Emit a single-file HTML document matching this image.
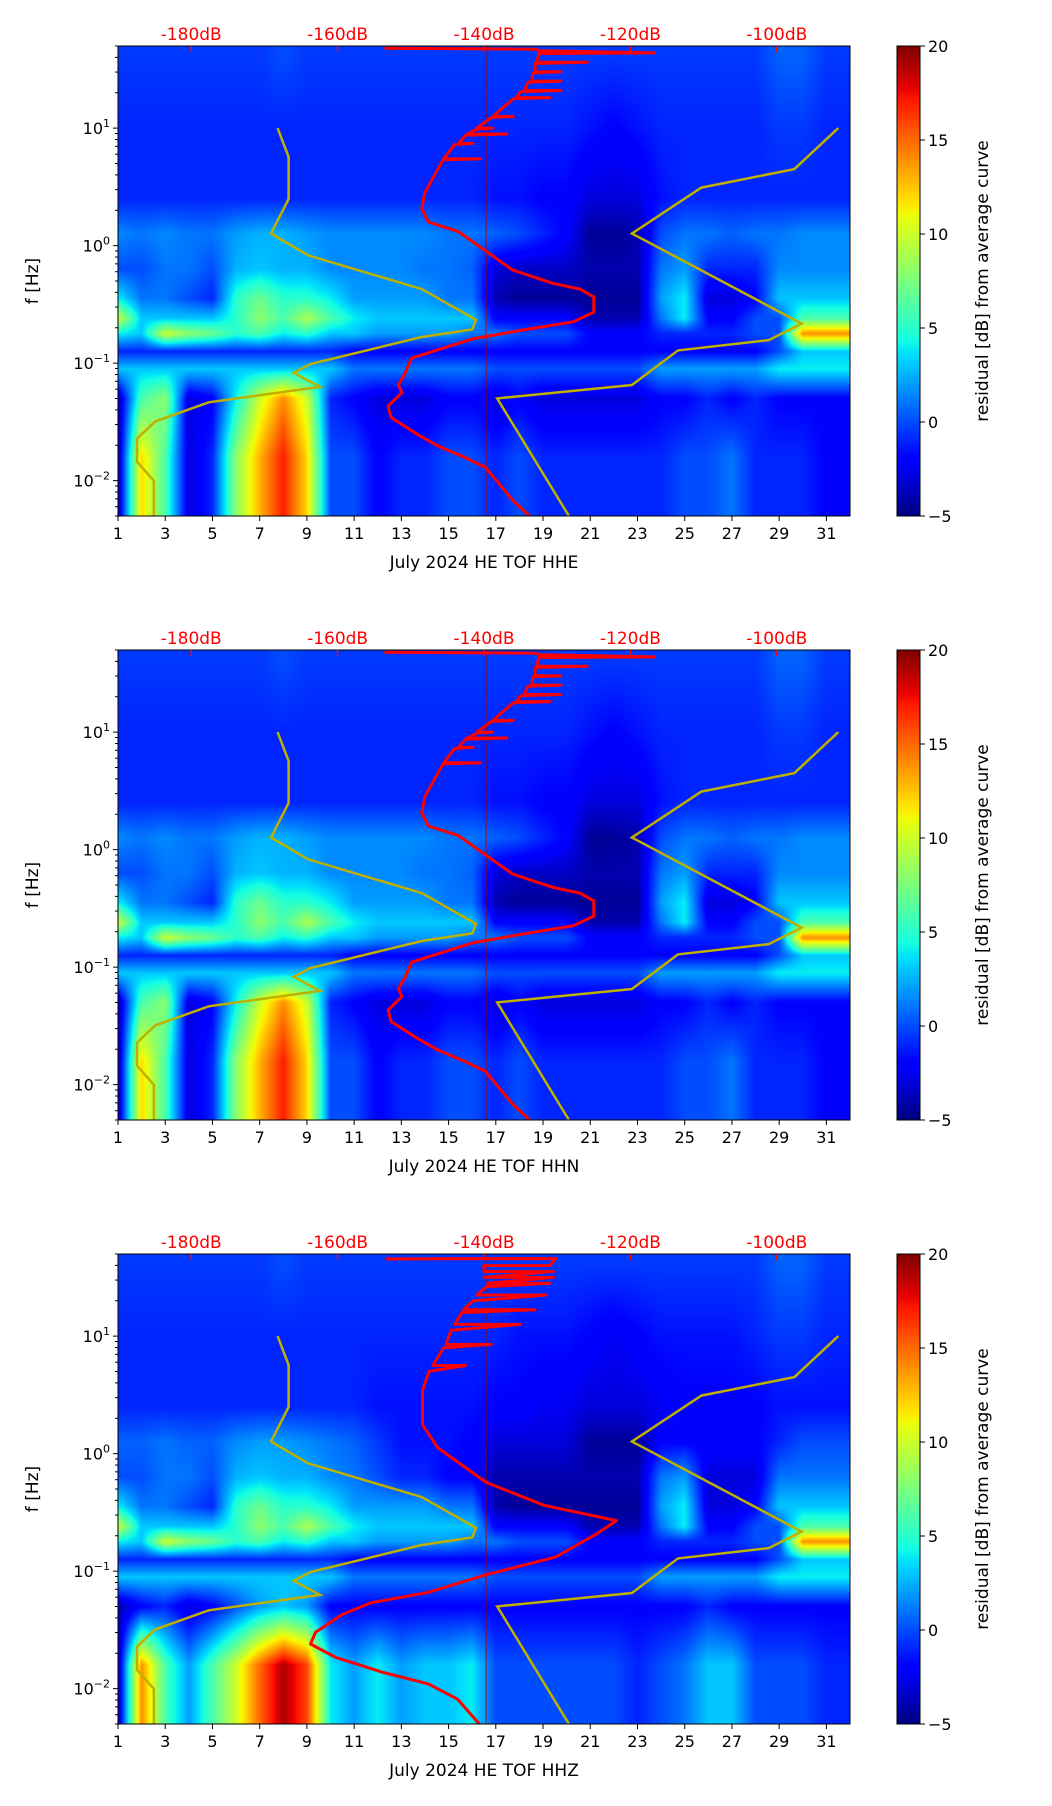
<!DOCTYPE html>
<html><head><meta charset="utf-8">
<style>
html,body{margin:0;padding:0;background:#fff;}
#wrap{position:relative;width:1052px;height:1806px;overflow:hidden;font-family:"DejaVu Sans","Liberation Sans",sans-serif;}
canvas{position:absolute;left:0;top:0;}
svg{position:absolute;left:0;top:0;}
</style></head>
<body>
<div id="wrap">
<canvas id="cv" width="1052" height="1806"></canvas>
<svg id="sv" width="1052" height="1806" xmlns="http://www.w3.org/2000/svg"></svg>
</div>
<script>
// ---------- data ----------
const rowLogF = [1.6, 1.0, 0.4, 0.1, -0.2, -0.45, -0.62, -0.75, -0.9, -1.05, -1.3, -1.8, -2.25];
const p1Rows = [
[-0.5,-0.5,-0.5,-0.5,-0.5,-0.5,-0.5,0,-0.5,-0.5,-0.5,-0.5,-0.5,-0.5,-0.5,-0.5,-0.5,-0.5,-0.5,-0.5,-0.5,-0.5,-0.5,-0.5,-0.5,-0.5,-0.5,-0.5,0.5,0.5,-0.5],
[-1,-1,-1,-1,-1,-1,-1,-1,-1,-1,-1,-1,-1,-1,-1,-1,-1,-1,-1,-1,-1.5,-2,-1.5,-1,-1,-1,-1,-1,-0.5,-0.5,-1],
[-1,-1,-1,-1,-1,-1,-1,-1,-1,-1,-1,-1,-1,-1,-1,-1,-1.5,-1.5,-2,-2,-3,-3,-3,-1.5,-1,-1,-1,-1,-1,-1,-1],
[1.5,1,1.5,1,1,2,2.5,2.5,2,1.5,1.5,1.5,1.5,1.5,1,1,0.5,0,-1,-2,-4.5,-4.5,-4,0,1,1,0.5,1,1,1.5,1.5],
[0,0,1,1,0,2.5,3,2.5,2.5,1.5,1.5,1.5,1.5,1,1,0.5,-3,-3.5,-3.5,-3.5,-4,-4,-4,1,2,-1,-1,-1,1.5,1.5,1.5],
[4,1,1,0,-1,5,7,5,5,4,2,2,2,2,1,1,-4,-4.5,-4.5,-4.5,-4.5,-4.5,-4.5,2,4,-3,-3,-2,3,3,3],
[10,3,3,3,3,5,8,6,9,6,4,3,3,3,3,3,-2,-2,-2,-2,-4,-4,-4,1,4,-2,-2,0,0,6,6],
[4,3,10,8,7,5,6,4,5,3,3,2,2,2,2,1,1,0,0,0,-2,-2,-2,-1,-1,-1,-1,0,0,14,14],
[-1,-1,-1,-1,-1,-1,-1,-1,-1,-1,-2,-2,-2,-2,-2,-2,-2,-2,-2,-2,-2,-2,-2,-2,-2,-2,-2,-2,0,3,3],
[3,3,3,3,3,3,3,3,3,3,1,1,1,1,1,1,0,0,0,0,0,0,0,2,2,2,2,2,4,4,4],
[-4,6,8,-3,-2,4,10,14,10,-1,-2,-3,-3,-3,-2,-2,-3,-2,-3,-3,-3,-3,-3,-2,-2,-1,-2,-1,-2,-2,-2],
[-4,12,6,-3,-1,8,13,17,12,0,0,-2,-1,-1,0,0,-1,0,-1,-1,-1,-1,-1,-1,0,0,1,-1,-1,-1,-2],
[-4,12,6,-3,-1,8,13,17,12,0,0,-2,-1,-1,0,0,-1,0,-1,-1,-1,-1,-1,-1,0,0,1,-1,-1,-1,-2]
];
const p3Rows = [
[-0.5,-0.5,-0.5,-0.5,-0.5,-0.5,-0.5,0,-0.5,-0.5,-0.5,-0.5,-0.5,-0.5,-0.5,-0.5,-0.5,-0.5,-0.5,-0.5,-0.5,-0.5,-0.5,-0.5,-0.5,-0.5,-0.5,-0.5,0.5,0.5,-0.5],
[-1,-1,-1,-1,-1,-1,-1,-1,-1,-1,-1,-1,-1,-1,-1,-1,-1,-1.5,-1.5,-1.5,-2,-2.5,-2,-1.5,-1.5,-1.5,-1.5,-1,-0.5,-0.5,-1],
[-1,-1,-1,-1,-1,-1,-1,-1,-1,-1,-1,-1.5,-1.5,-1.5,-1.5,-1.5,-2,-2,-2.5,-2.5,-3,-3,-3,-2.5,-2,-2,-2,-2,-1.5,-1.5,-1.5],
[0.5,0.5,1,0.5,0.5,1.5,2,2,1.5,1,0.5,-0.5,-1.5,-1.5,-1.5,-2,-3,-3,-3,-3,-4.5,-4.5,-4.5,-2,-2,-2,-2,-2,-1,0,0],
[0,0,1,1,0,2.5,3,2.5,2.5,1.5,1,0,-1,-1,-2,-2,-4,-4,-4,-4,-4,-4,-4,1,2,-3,-3,-3,1,1,1],
[4,1,1,0,-1,5,7,5,5,4,2,2,2,2,1,1,-4,-4.5,-4.5,-4.5,-4.5,-4.5,-4.5,2,4,-3,-3,-2,3,3,3],
[10,3,3,3,3,5,8,6,9,6,4,3,3,3,3,3,-2,-2,-2,-2,-4,-4,-4,1,4,-2,-2,0,0,6,6],
[4,3,10,8,7,5,6,4,5,3,3,2,2,2,2,1,1,0,0,0,-2,-2,-2,-1,-1,-1,-1,0,0,14,14],
[-1,-1,-1,-1,-1,-1,-1,-1,-1,-1,-2,-2,-2,-2,-2,-2,-2,-2,-2,-2,-2,-2,-2,-2,-2,-2,-2,-2,0,3,3],
[3,3,3,3,3,3,3,3,3,3,1,1,1,1,1,1,0,0,0,0,0,0,0,2,2,2,2,2,4,4,4],
[-4,-2,-1,-3,-2,0,2,3,2,-2,-2,-2,-2,-2,-2,-2,-2,-2,-2,-2,-2,-2,-2,-2,-2,-1,-2,-2,-2,-2,-2],
[-4,14,6,2,6,10,15,19,16,4,2,4,2,3,3,4,0,0,0,0,0,0,-1,0,1,3,3,0,0,0,-1],
[-4,14,6,2,6,10,15,19,16,4,2,4,2,3,3,4,0,0,0,0,0,0,-1,0,1,3,3,0,0,0,-1]
];
const nlnmLogF = [1.0,0.755,0.396,0.103,-0.083,-0.37,-0.631,-0.713,-0.778,-1.007,-1.082,-1.202,-1.333,-1.496,-1.643,-1.839,-2.002,-2.30];
const nlnmDb = [-168.2,-166.7,-166.7,-169.1,-164.0,-148.5,-141.1,-141.6,-148.5,-163.7,-166.0,-162.4,-177.6,-184.9,-187.4,-187.4,-185.1,-185.1];
const nhnmLogF = [1.0,0.651,0.494,0.103,-0.664,-0.804,-0.892,-1.186,-1.30,-2.30];
const nhnmDb = [-91.6,-97.6,-110.3,-119.8,-96.6,-101.1,-113.5,-119.8,-138.2,-128.4];
const red1LogF = [1.679,1.672,1.66,1.64,1.635,1.56,1.56,1.55,1.48,1.48,1.47,1.40,1.40,1.39,1.32,1.32,1.31,1.26,1.26,1.25,1.10,1.10,1.09,1.0,1.0,0.99,0.95,0.95,0.94,0.87,0.87,0.86,0.74,0.74,0.73,0.608,0.445,0.315,0.201,0.119,-0.044,-0.207,-0.321,-0.37,-0.436,-0.566,-0.648,-0.713,-0.794,-0.958,-1.088,-1.186,-1.251,-1.365,-1.463,-1.61,-1.708,-1.806,-1.887,-2.165,-2.30];
const red1Db = [-153.6,-133.0,-132.4,-116.7,-132.5,-132.8,-125.9,-133,-133,-129.5,-133.3,-133.5,-129.5,-134,-134.5,-129.5,-135,-135.6,-131,-136,-138.8,-136,-139,-141,-138.8,-141,-142.3,-136.9,-142.5,-143.5,-141.5,-144,-145.5,-140.5,-145.6,-146.7,-148.1,-148.5,-147.6,-143.5,-139.8,-136.1,-130.6,-126.9,-125.0,-125.0,-127.8,-134.2,-141.6,-149.9,-150.8,-151.7,-151.2,-153.1,-152.7,-149.0,-146.2,-142.5,-139.8,-136.1,-133.8];
const red3LogF = [1.657,1.66,1.6,1.6,1.55,1.55,1.5,1.5,1.45,1.45,1.42,1.35,1.35,1.3,1.225,1.225,1.2,1.1,1.1,1.05,0.93,0.93,0.9,0.75,0.75,0.7,0.54,0.245,0.049,-0.245,-0.44,-0.57,-0.686,-0.88,-1.03,-1.18,-1.27,-1.37,-1.52,-1.62,-1.735,-1.86,-1.96,-2.09,-2.31];
const red3Db = [-153.4,-130.2,-131,-140,-140,-130.5,-140,-130.5,-139.5,-131,-139.7,-141,-131.5,-141.5,-142.8,-133,-143,-144,-135,-144.5,-145.2,-139,-145.5,-147,-142.5,-147.5,-148.4,-148.4,-146.3,-139.7,-131.8,-121.9,-124.7,-130.2,-139.7,-147.6,-155.5,-159.4,-163.0,-163.7,-160.2,-153.9,-147.6,-143.6,-140.5];
const dayTicks = [1,3,5,7,9,11,13,15,17,19,21,23,25,27,29,31];
const dbTicks = [-180,-160,-140,-120,-100];
const cbTicks = [20,15,10,5,0,-5];
const yDecades = [1,0,-1,-2];
const panelTitles = ["July 2024 HE TOF  HHE","July 2024 HE TOF  HHN","July 2024 HE TOF  HHZ"];
const panelTops = [46,650,1254];

// ---------- geometry ----------
const X0=118, X1=850, H=470, LTOP=Math.log10(50), LBOT=Math.log10(0.005);
const CB0=897, CB1=920;
function xDay(d){return X0+(d-1)/31*(X1-X0);}
function xDb(db){return X0+(db+190)/100*(X1-X0);}
function yF(top,lf){return top+(LTOP-lf)/(LTOP-LBOT)*H;}
function interp(xs,ys,x){
  if(x<=xs[0])return ys[0];
  for(let i=1;i<xs.length;i++){ if(x<=xs[i]){const t=(x-xs[i-1])/(xs[i]-xs[i-1]);return ys[i-1]+t*(ys[i]-ys[i-1]);} }
  return ys[ys.length-1];
}
function jet(t){
  t=Math.max(0,Math.min(1,t));
  const r=interp([0,0.35,0.66,0.89,1],[0,0,1,1,0.5],t);
  const g=interp([0,0.125,0.375,0.64,0.91,1],[0,0,1,1,0,0],t);
  const b=interp([0,0.11,0.34,0.65,1],[0.5,1,1,0,0],t);
  return [r*255,g*255,b*255];
}
const cv=document.getElementById('cv');const ctx=cv.getContext('2d');
const rowsByPanel=[p1Rows,p1Rows,p3Rows];
const redF=[red1LogF,red1LogF,red3LogF], redD=[red1Db,red1Db,red3Db];

function drawHeat(top,rows){
  const w=X1-X0;
  const img=ctx.createImageData(w,H);
  for(let py=0;py<H;py++){
    const lf=LTOP-(py+0.5)/H*(LTOP-LBOT);
    let i=0; while(i<rowLogF.length-2 && lf<rowLogF[i+1]) i++;
    let t=(rowLogF[i]-lf)/(rowLogF[i]-rowLogF[i+1]); t=Math.max(0,Math.min(1,t));
    const ra=rows[i], rb=rows[i+1];
    for(let px=0;px<w;px++){
      const c=(px+0.5)/w*31; // day-1
      let j=Math.floor(c); let u=c-j;
      let j0=Math.max(0,Math.min(30,j)), j1=Math.max(0,Math.min(30,j+1));
      const va=ra[j0]+(ra[j1]-ra[j0])*u, vb=rb[j0]+(rb[j1]-rb[j0])*u;
      const v=va+(vb-va)*t;
      const col=jet((v+5)/25);
      const k=(py*w+px)*4;
      img.data[k]=col[0];img.data[k+1]=col[1];img.data[k+2]=col[2];img.data[k+3]=255;
    }
  }
  ctx.putImageData(img,X0,top);
  for(let py=0;py<H;py++){
    const col=jet(1-(py+0.5)/H);
    ctx.fillStyle=`rgb(${col[0]|0},${col[1]|0},${col[2]|0})`;
    ctx.fillRect(CB0,top+py,CB1-CB0,1);
  }
}

const NS='http://www.w3.org/2000/svg';
const sv=document.getElementById('sv');
function el(tag,attrs,parent,txt){
  const e=document.createElementNS(NS,tag);
  for(const k in attrs)e.setAttribute(k,attrs[k]);
  if(txt!==undefined)e.textContent=txt;
  (parent||sv).appendChild(e);return e;
}
function curvePath(top,lfs,dbs){
  let s='';
  for(let i=0;i<lfs.length;i++){s+=(i?'L':'M')+xDb(dbs[i]).toFixed(1)+' '+yF(top,lfs[i]).toFixed(1);}
  return s;
}

panelTops.forEach((top,pi)=>{
  drawHeat(top,rowsByPanel[pi]);
  const g=el('g',{});
  
  
  const cp=el('clipPath',{id:'clip'+pi},g); el('rect',{x:X0,y:top,width:X1-X0,height:H},cp);
  const cg=el('g',{'clip-path':'url(#clip'+pi+')'},g);
  const vline=el('line',{x1:xDb(-139.7),x2:xDb(-139.7),y1:top,y2:top+H,stroke:'#a00000','stroke-width':1,opacity:0.7},cg);
  
  
  const nl=el('path',{d:curvePath(top,nlnmLogF,nlnmDb),fill:'none',stroke:'#bfb000','stroke-width':2.5},cg);
  
  
  const nh=el('path',{d:curvePath(top,nhnmLogF,nhnmDb),fill:'none',stroke:'#bfb000','stroke-width':2.5},cg);
  
  
  const rc=el('path',{d:curvePath(top,redF[pi],redD[pi]),fill:'none',stroke:'#ff0000','stroke-width':3,'stroke-linejoin':'round'},cg);
  
  
  const fr=el('rect',{x:X0,y:top,width:X1-X0,height:H,fill:'none',stroke:'#000','stroke-width':1},g);
  
  
  dayTicks.forEach(d=>{
    const x=xDay(d);
    el('line',{x1:x,x2:x,y1:top+H,y2:top+H+5,stroke:'#000'},g);
    const t=el('text',{x:x,y:top+H+23,'text-anchor':'middle','font-size':16,fill:'#000'},g,String(d));
    
    
  });
  const xl=el('text',{x:484,y:top+H+52,'text-anchor':'middle','font-size':17,fill:'#000'},g,panelTitles[pi]);
  
  
  dbTicks.forEach(db=>{
    const x=xDb(db);
    el('line',{x1:x,x2:x,y1:top,y2:top+6,stroke:'#ff0000','stroke-width':1.5},g);
    const t=el('text',{x:x,y:top-6,'text-anchor':'middle','font-size':17,fill:'#ff0000'},g,db+'dB');
    
    
  });
  for(let dec=-3;dec<=1;dec++){
    for(let m=1;m<10;m++){
      const lf=dec+Math.log10(m);
      if(lf>LTOP||lf<LBOT)continue;
      const y=yF(top,lf);
      el('line',{x1:X0-(m===1?5:3),x2:X0,y1:y,y2:y,stroke:'#000'},g);
    }
  }
  yDecades.forEach(dec=>{
    const y=yF(top,dec);
    const t=el('text',{x:X0-8,y:y+6,'text-anchor':'end','font-size':16,fill:'#000'},g);
    
    
    el('tspan',{},t,'10');
    el('tspan',{dy:-7,'font-size':11},t,dec<0?'\u2212'+(-dec):String(dec));
  });
  const yl=el('text',{x:38,y:top+H/2,'text-anchor':'middle','font-size':17,fill:'#000',transform:`rotate(-90 38 ${top+H/2})`},g,'f [Hz]');
  
  
  const cb=el('rect',{x:CB0,y:top,width:CB1-CB0,height:H,fill:'none',stroke:'#000'},g);
  
  
  cbTicks.forEach(v=>{
    const y=top+(20-v)/25*H;
    el('line',{x1:CB1,x2:CB1+5,y1:y,y2:y,stroke:'#000'},g);
    const t=el('text',{x:CB1+8,y:y+6,'font-size':16,fill:'#000'},g,v<0?'\u2212'+(-v):String(v));
    
    
  });
  const cl=el('text',{x:988,y:top+H/2,'text-anchor':'middle','font-size':17,fill:'#000',transform:`rotate(-90 988 ${top+H/2})`},g,'residual [dB] from average curve');
  
  
});
</script>
</body></html>
